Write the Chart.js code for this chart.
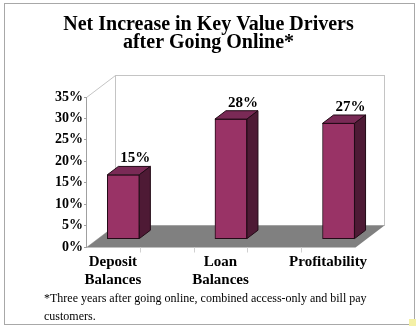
<!DOCTYPE html>
<html>
<head>
<meta charset="utf-8">
<script src="https://cdn.jsdelivr.net/npm/chart.js@4"></script>
<style>
  body { margin: 0; background: #fff; }
  #wrap { position: relative; width: 417px; height: 328px; }
  #frame { position: absolute; left: 4px; top: 3px; width: 411px; height: 322px; box-sizing: border-box; border: 1px solid #a8a8a8; }
  #chart { position: absolute; left: 0; top: 0; }
  #note { position: absolute; left: 44px; top: 289px; font: 12px/18px 'Liberation Serif', 'Times New Roman', serif; color: #000; white-space: nowrap; }
  #corner { position: absolute; left: 409px; top: 319px; width: 7px; height: 7px; background: #f4f0a6; }
</style>
</head>
<body>
<div id="wrap">
  <div id="frame"></div>
  <canvas id="chart" width="417" height="328"></canvas>
  <div id="note">*Three years after going online, combined access-only and bill pay<br>customers.</div>
  <div id="corner"></div>
</div>
<script>
// chart data
const titleLines = ['Net Increase in Key Value Drivers', 'after Going Online*'];
const categories = [['Deposit', 'Balances'], ['Loan', 'Balances'], 'Profitability'];
const increase = [15, 28, 27];
const yMax = 35;
const yStep = 5;

const serif = "'Liberation Serif', 'Times New Roman', serif";
Chart.defaults.color = '#000';
Chart.defaults.font.family = serif;

// depth of the box, front plane -> back wall
const DX = 29, DY = -22;
// where the bars sit inside that depth
const BAR_FRONT = 0.36, BAR_DEPTH = 0.38;

const box3d = {
  id: 'box3d',
  beforeDraw(chart) {
    const { ctx, chartArea: a, scales: { x, y } } = chart;
    const L = Math.round(a.left) + 0.5, R = Math.round(a.right) + 0.5;
    const T = Math.round(y.getPixelForValue(yMax)) + 0.5;
    const B = Math.round(y.getPixelForValue(0)) + 0.5;
    ctx.save();
    ctx.lineWidth = 1;
    ctx.strokeStyle = '#c4c4c4';
    ctx.fillStyle = '#fff';
    // left wall
    ctx.beginPath();
    ctx.moveTo(L, T); ctx.lineTo(L + DX, T + DY); ctx.lineTo(L + DX, B + DY); ctx.lineTo(L, B);
    ctx.closePath(); ctx.fill(); ctx.stroke();
    // back wall
    ctx.fillRect(L + DX, T + DY, R - L, B - T);
    ctx.strokeRect(L + DX, T + DY, R - L, B - T);
    // floor
    ctx.fillStyle = '#808080';
    ctx.beginPath();
    ctx.moveTo(L, B); ctx.lineTo(R, B); ctx.lineTo(R + DX, B + DY); ctx.lineTo(L + DX, B + DY);
    ctx.closePath(); ctx.fill();
    // small tick marks under the floor edge
    ctx.strokeStyle = '#d0d0d0';
    for (let i = 0; i < categories.length - 1; i++) {
      [i + 0.25, i + 0.75].forEach(v => {
        const px = Math.round(x.getPixelForValue(v)) + 0.5;
        ctx.beginPath(); ctx.moveTo(px, B); ctx.lineTo(px, B + 5); ctx.stroke();
      });
    }
    ctx.restore();
  },
  beforeDatasetsDraw(chart) {
    chart.ctx.save();
    chart.ctx.translate(DX * BAR_FRONT, DY * BAR_FRONT);
  },
  afterDatasetsDraw(chart) {
    const ctx = chart.ctx;
    const bx = DX * BAR_DEPTH, by = DY * BAR_DEPTH;
    chart.getDatasetMeta(0).data.forEach((bar, i) => {
      const { x: cx, y: top, base, width } = bar.getProps(['x', 'y', 'base', 'width'], true);
      const l = cx - width / 2, r = cx + width / 2;
      ctx.lineWidth = 1;
      ctx.strokeStyle = '#220a16';
      // top face
      ctx.fillStyle = '#7a2a56';
      ctx.beginPath();
      ctx.moveTo(l, top); ctx.lineTo(r, top); ctx.lineTo(r + bx, top + by); ctx.lineTo(l + bx, top + by);
      ctx.closePath(); ctx.fill(); ctx.stroke();
      // side face
      ctx.fillStyle = '#4e1a35';
      ctx.beginPath();
      ctx.moveTo(r, top); ctx.lineTo(r + bx, top + by); ctx.lineTo(r + bx, base + by); ctx.lineTo(r, base);
      ctx.closePath(); ctx.fill(); ctx.stroke();
      // value label
      ctx.fillStyle = '#000';
      ctx.font = 'bold 15px ' + serif;
      ctx.textAlign = 'center';
      ctx.textBaseline = 'alphabetic';
      ctx.fillText(increase[i] + '%', cx + 12, top + by - 4);
    });
    ctx.restore();
  }
};

new Chart(document.getElementById('chart'), {
  type: 'bar',
  data: {
    datasets: [{
      data: increase.map((v, i) => ({ x: i, y: v })),
      backgroundColor: '#993366',
      borderColor: '#220a16',
      borderWidth: 1,
      borderSkipped: false,
      barThickness: 32
    }]
  },
  options: {
    responsive: false,
    animation: false,
    events: [],
    layout: { padding: { left: 0, right: 0, top: 0, bottom: 31 } },
    plugins: {
      legend: { display: false },
      tooltip: { enabled: false },
      title: {
        display: true,
        text: titleLines,
        font: { size: 20, weight: 'bold', lineHeight: '18px' },
        padding: { top: 16, bottom: 45 }
      }
    },
    scales: {
      x: {
        type: 'linear',
        min: -0.25,
        max: categories.length - 0.75,
        bounds: 'data',
        offset: false,
        afterBuildTicks: s => { s.ticks = categories.map((c, i) => ({ value: i })); },
        afterFit: s => { s.height = 50; },
        grid: { display: false, drawTicks: false },
        border: { display: false },
        ticks: {
          callback: v => categories[v],
          font: { size: 15, weight: 'bold', lineHeight: '18px' },
          padding: 6,
          maxRotation: 0,
          autoSkip: false
        }
      },
      y: {
        min: 0,
        max: yMax,
        afterFit: s => { s.width = 86; },
        grid: { drawOnChartArea: false, tickLength: 2, color: '#a0a0a0' },
        border: { color: '#a0a0a0' },
        ticks: {
          stepSize: yStep,
          callback: v => v + '%',
          font: { size: 14, weight: 'bold' },
          padding: 1
        }
      },
      // empty right-hand axis that only reserves the space beside the box
      gap: {
        position: 'right',
        display: true,
        afterFit: s => { s.width = 62; },
        grid: { display: false },
        border: { display: false },
        ticks: { display: false }
      }
    }
  },
  plugins: [box3d]
});
</script>
</body>
</html>
